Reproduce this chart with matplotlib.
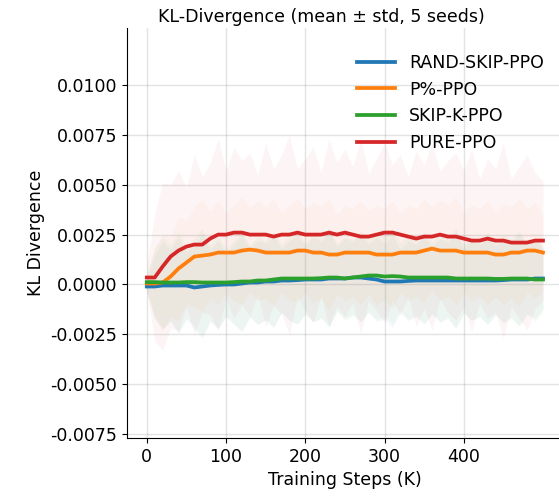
import numpy as np
import matplotlib
matplotlib.use('Agg')
import matplotlib.pyplot as plt

# training steps (K)
steps = list(range(0, 501, 10))

# mean KL per method
rand_skip = [-0.0001, -0.0001, -0.00005, -0.00005, -0.00005, -0.00005, -0.00015, -0.0001, -0.00005, -0.00002,
             0.0, 0.0, 0.00005, 0.0001, 0.0001, 0.00015, 0.00015, 0.0002, 0.0002, 0.00022,
             0.00025, 0.00025, 0.00025, 0.0003, 0.0003, 0.0003, 0.00035, 0.00035, 0.0003, 0.00025,
             0.00015, 0.00015, 0.00015, 0.00018, 0.0002, 0.0002, 0.0002, 0.0002, 0.0002, 0.0002,
             0.0002, 0.0002, 0.0002, 0.0002, 0.0002, 0.00022, 0.00025, 0.00025, 0.00025, 0.0003, 0.0003]
p_pct = [0.00005, 0.00005, 0.0001, 0.0004, 0.0008, 0.0011, 0.0014, 0.00145, 0.0015, 0.0016,
         0.0016, 0.0016, 0.0017, 0.00175, 0.0017, 0.0016, 0.0016, 0.0016, 0.0016, 0.0017,
         0.0017, 0.0016, 0.0016, 0.0015, 0.0015, 0.0016, 0.0016, 0.0016, 0.0016, 0.0015,
         0.0015, 0.0015, 0.0016, 0.0016, 0.0016, 0.0017, 0.0018, 0.0017, 0.0017, 0.0017,
         0.0016, 0.0016, 0.0016, 0.0016, 0.0015, 0.0015, 0.0016, 0.0016, 0.0017, 0.0017, 0.0016]
skip_k = [0.00012, 0.00012, 0.0001, 0.0001, 0.0001, 0.00012, 0.00012, 0.0001, 0.0001, 0.0001,
          0.0001, 0.00012, 0.00015, 0.00015, 0.0002, 0.0002, 0.00025, 0.0003, 0.0003, 0.0003,
          0.0003, 0.0003, 0.00032, 0.00035, 0.00035, 0.0003, 0.00035, 0.0004, 0.00045, 0.00045,
          0.0004, 0.00042, 0.0004, 0.00035, 0.00035, 0.00035, 0.00035, 0.00035, 0.00035, 0.0003,
          0.0003, 0.0003, 0.0003, 0.0003, 0.00028, 0.00028, 0.0003, 0.0003, 0.0003, 0.00025, 0.00025]
pure = [0.00035, 0.00035, 0.0009, 0.0014, 0.0017, 0.0019, 0.002, 0.002, 0.0023, 0.0025,
        0.0025, 0.0026, 0.0026, 0.0025, 0.0025, 0.0025, 0.0024, 0.0025, 0.0025, 0.0026,
        0.0025, 0.0025, 0.0025, 0.0026, 0.0025, 0.0026, 0.0025, 0.0024, 0.0024, 0.0025,
        0.0026, 0.0026, 0.0025, 0.0024, 0.0023, 0.0024, 0.0024, 0.0025, 0.0024, 0.0024,
        0.0023, 0.0022, 0.0022, 0.0023, 0.0022, 0.0022, 0.0021, 0.0021, 0.0021, 0.0022, 0.0022]

# std across seeds (rough estimates of the shaded band)
rand_skip_std = [0.0004, 0.0016, 0.0022, 0.0018, 0.0024, 0.0017, 0.0021, 0.0026, 0.0018, 0.0022,
                 0.0016, 0.0020, 0.0024, 0.0017, 0.0021, 0.0019, 0.0023, 0.0016, 0.0020, 0.0022,
                 0.0017, 0.0021, 0.0019, 0.0024, 0.0016, 0.0020, 0.0018, 0.0022, 0.0017, 0.0021,
                 0.0019, 0.0023, 0.0016, 0.0020, 0.0018, 0.0022, 0.0017, 0.0021, 0.0019, 0.0024,
                 0.0016, 0.0020, 0.0018, 0.0022, 0.0017, 0.0021, 0.0019, 0.0023, 0.0017, 0.0020, 0.0015]
p_pct_std = [0.0004, 0.0018, 0.0024, 0.0020, 0.0026, 0.0021, 0.0025, 0.0028, 0.0022, 0.0026,
             0.0020, 0.0024, 0.0027, 0.0021, 0.0025, 0.0023, 0.0027, 0.0020, 0.0024, 0.0026,
             0.0021, 0.0025, 0.0023, 0.0028, 0.0020, 0.0024, 0.0022, 0.0026, 0.0021, 0.0025,
             0.0023, 0.0027, 0.0020, 0.0024, 0.0022, 0.0026, 0.0021, 0.0025, 0.0023, 0.0027,
             0.0020, 0.0024, 0.0022, 0.0026, 0.0021, 0.0025, 0.0023, 0.0027, 0.0021, 0.0024, 0.0019]
skip_k_std = [0.0004, 0.0017, 0.0023, 0.0019, 0.0025, 0.0018, 0.0022, 0.0027, 0.0019, 0.0023,
              0.0017, 0.0021, 0.0025, 0.0018, 0.0022, 0.0020, 0.0024, 0.0017, 0.0021, 0.0023,
              0.0018, 0.0022, 0.0020, 0.0025, 0.0017, 0.0021, 0.0019, 0.0023, 0.0018, 0.0022,
              0.0020, 0.0024, 0.0017, 0.0021, 0.0019, 0.0023, 0.0018, 0.0022, 0.0020, 0.0025,
              0.0017, 0.0021, 0.0019, 0.0023, 0.0018, 0.0022, 0.0020, 0.0024, 0.0018, 0.0021, 0.0016]
pure_std = [0.0006, 0.0032, 0.0042, 0.0036, 0.0040, 0.0030, 0.0045, 0.0034, 0.0038, 0.0048,
            0.0032, 0.0043, 0.0036, 0.0041, 0.0030, 0.0046, 0.0034, 0.0040, 0.0050, 0.0032,
            0.0038, 0.0044, 0.0031, 0.0047, 0.0036, 0.0042, 0.0034, 0.0049, 0.0032, 0.0038,
            0.0045, 0.0034, 0.0040, 0.0030, 0.0044, 0.0036, 0.0047, 0.0032, 0.0038, 0.0042,
            0.0034, 0.0046, 0.0031, 0.0040, 0.0036, 0.0049, 0.0032, 0.0038, 0.0044, 0.0034, 0.0030]

labels = ['RAND-SKIP-PPO', 'P%-PPO', 'SKIP-K-PPO', 'PURE-PPO']
colors = ['tab:blue', 'tab:orange', 'tab:green', 'tab:red']
means = [rand_skip, p_pct, skip_k, pure]
stds = [rand_skip_std, p_pct_std, skip_k_std, pure_std]

fs = 12.5
fig = plt.figure(figsize=(5.59, 4.97), dpi=100)
ax = fig.add_axes([127 / 559, 59 / 497, 435 / 559, 410 / 497])

x = np.array(steps)
for m, s, c in zip(means, stds, colors):
    m = np.array(m)
    s = np.array(s)
    ax.fill_between(x, m - s, m + s, color=c, alpha=0.045, linewidth=0)
for m, lab, c in zip(means, labels, colors):
    ax.plot(x, m, color=c, lw=2.7, label=lab)

ax.set_xlim(-25, 524)
ax.set_ylim(-0.00769, 0.01285)
ax.set_xticks([0, 100, 200, 300, 400])
ax.set_yticks(np.arange(-0.0075, 0.0101, 0.0025))
ax.yaxis.set_major_formatter(matplotlib.ticker.FormatStrFormatter('%.4f'))
ax.tick_params(labelsize=fs)
ax.grid(True, color='grey', alpha=0.22, lw=1)
ax.spines['top'].set_visible(False)
ax.spines['right'].set_visible(False)

ax.set_xlabel('Training Steps (K)', fontsize=fs)
ax.set_ylabel('KL Divergence', fontsize=fs)
ax.set_title('KL-Divergence (mean ± std, 5 seeds)', fontsize=fs, x=0.446, pad=4)

ax.legend(loc='upper right', bbox_to_anchor=(0.995, 0.975), frameon=False, fontsize=fs,
          handlelength=2.2)

fig.savefig('out.png', dpi=100)
